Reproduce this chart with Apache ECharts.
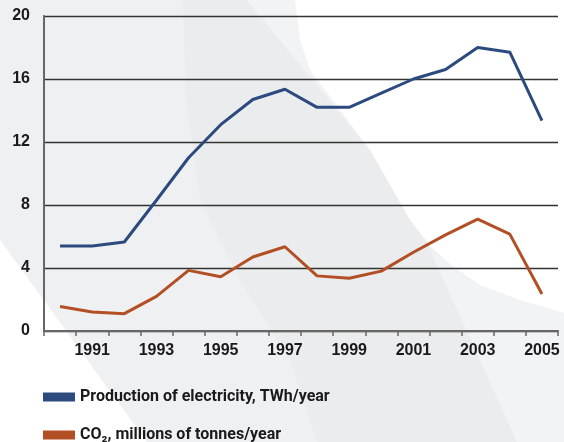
<!DOCTYPE html>
<html>
<head>
<meta charset="utf-8">
<script src="https://cdn.jsdelivr.net/npm/echarts@6/dist/echarts.min.js"></script>
<style>
  html, body { margin: 0; padding: 0; background: #eff0f2; }
  #chart { width: 564px; height: 442px; }
</style>
</head>
<body>
<div id="chart"></div>
<script>
// data
const years = ['1990', '1991', '1992', '1993', '1994', '1995', '1996', '1997',
  '1998', '1999', '2000', '2001', '2002', '2003', '2004', '2005']
const electricity = [5.4, 5.4, 5.65, 8.3, 11.0, 13.1, 14.7, 15.35,
  14.2, 14.2, 15.1, 16.0, 16.6, 18.0, 17.7, 13.35]
const co2 = [1.55, 1.2, 1.1, 2.2, 3.85, 3.45, 4.7, 5.35,
  3.5, 3.35, 3.8, 5.0, 6.1, 7.1, 6.15, 2.35]
const yTicks = [0, 4, 8, 12, 16, 20]

const nameElec = 'Production of electricity, TWh/year'
const nameCo2 = 'CO₂, millions of tonnes/year'

const myChart = echarts.init(document.getElementById('chart'))

const legendText = {
  fontFamily: 'Roboto',
  fontWeight: 'bold',
  fontSize: 16,
  color: '#1a1a1a',
}

// background shapes (decoration only)
const bgShapes = [
  { // darker middle band
    points: [[183, 0], [247, 0], [370, 150], [400, 200], [430, 250], [517, 442], [317, 442], [290, 360], [240, 280], [200, 200], [186, 100]],
    fill: '#ebeced',
  },
  { // lighter strip next to the white swoosh
    points: [[247, 0], [295, 0], [300, 40], [310, 70], [370, 150]],
    fill: '#f2f3f5',
  },
  { // lighter area under the white swoosh
    points: [[430, 250], [470, 280], [520, 300], [564, 313], [564, 442], [517, 442]],
    fill: '#f2f3f5',
  },
  { // white swoosh top right
    points: [[295, 0], [564, 0], [564, 313], [520, 300], [480, 285], [452, 266], [432, 248], [410, 220], [393, 190], [370, 150], [310, 70], [300, 40]],
    fill: '#ffffff',
  },
  { // white corner bottom left
    points: [[0, 240], [147, 442], [0, 442]],
    fill: '#ffffff',
  },
]

const option = {
  backgroundColor: '#eff0f2',
  animation: false,
  graphic: bgShapes.map((s, i) => ({
    type: 'polygon', z: -20 + i, silent: true,
    shape: { points: s.points },
    style: { fill: s.fill },
  })),
  legend: [
    {
      left: 38, top: 384, icon: 'rect', itemWidth: 32, itemHeight: 9, itemGap: 10,
      textStyle: legendText, data: [nameElec],
    },
    {
      left: 38, top: 422, icon: 'rect', itemWidth: 32, itemHeight: 9, itemGap: 10,
      textStyle: legendText, data: [nameCo2],
    },
  ],
  grid: { left: 44, right: 6, top: 16, bottom: 111 },
  xAxis: {
    type: 'category',
    data: years,
    axisLine: { lineStyle: { color: '#666', width: 2 } },
    axisTick: { show: true, interval: 0, length: 5, lineStyle: { color: '#666', width: 1.5 } },
    axisLabel: {
      interval: 0,
      margin: 12,
      fontFamily: 'Liberation Sans',
      fontWeight: 'bold',
      fontSize: 16,
      color: '#1a1a1a',
      formatter: (v) => (Number(v) % 2 === 1 ? v : ''),
    },
  },
  yAxis: {
    type: 'value',
    min: yTicks[0],
    max: yTicks[yTicks.length - 1],
    interval: 4,
    axisLine: { show: true, lineStyle: { color: '#666', width: 2 } },
    axisTick: { show: false },
    splitLine: { lineStyle: { color: '#333', width: 1.3 } },
    axisLabel: {
      margin: 14,
      fontFamily: 'Liberation Sans',
      fontWeight: 'bold',
      fontSize: 16,
      color: '#1a1a1a',
    },
  },
  series: [
    {
      type: 'line', name: nameElec, data: electricity,
      showSymbol: false, color: '#2c4a7e',
      lineStyle: { width: 3, color: '#2c4a7e' },
    },
    {
      type: 'line', name: nameCo2, data: co2,
      showSymbol: false, color: '#b24f25',
      lineStyle: { width: 3, color: '#b24f25' },
    },
  ],
}

myChart.setOption(option)
</script>
</body>
</html>
